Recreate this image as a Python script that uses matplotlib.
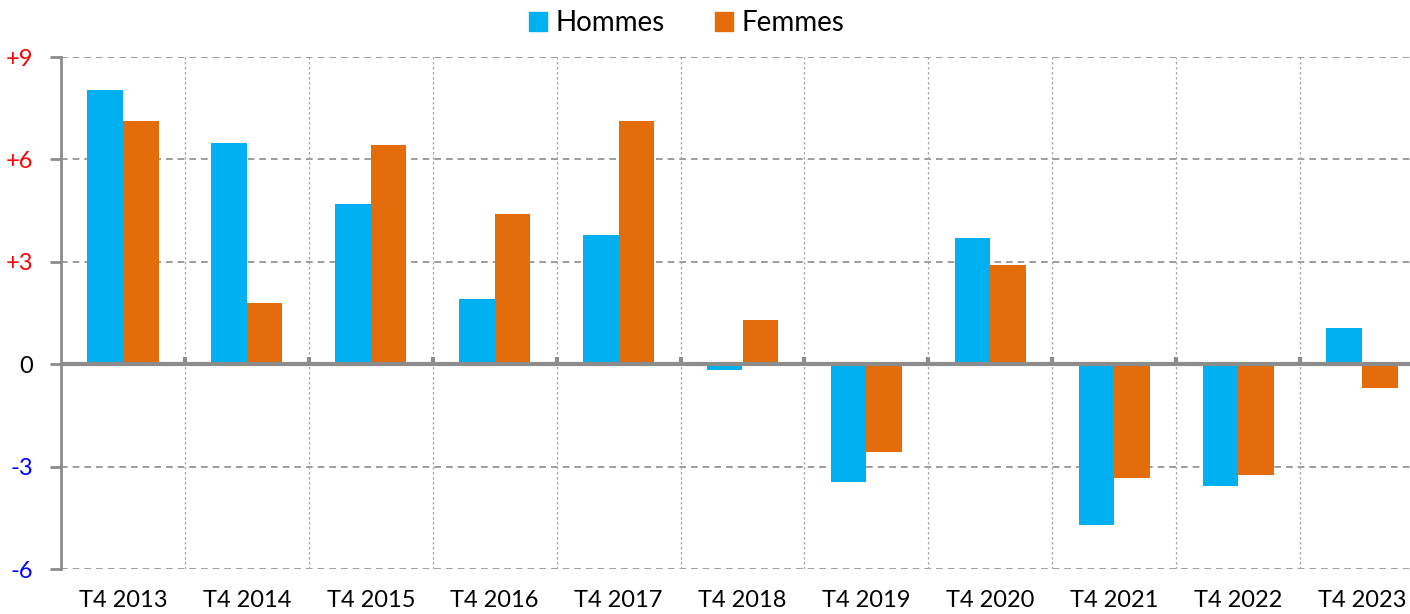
import numpy as np
import matplotlib
matplotlib.use("Agg")
from matplotlib import pyplot as plt
from matplotlib.patches import Patch

categories = ["T4 2013", "T4 2014", "T4 2015", "T4 2016", "T4 2017", "T4 2018",
              "T4 2019", "T4 2020", "T4 2021", "T4 2022", "T4 2023"]
hommes = [8.03, 6.48, 4.69, 1.91, 3.79, -0.17, -3.45, 3.70, -4.71, -3.57, 1.06]
femmes = [7.13, 1.79, 6.42, 4.40, 7.13, 1.29, -2.57, 2.91, -3.33, -3.25, -0.70]
yticks = [-6, -3, 0, 3, 6, 9]
ytick_labels = ["-6", "-3", "0", "+3", "+6", "+9"]
ytick_colors = ["blue", "blue", "black", "red", "red", "red"]

BLUE = "#00B0F0"
ORANGE = "#E46C0A"
GRID = "#8c8c8c"

plt.rcParams["font.family"] = ["Lato", "DejaVu Sans"]

fig = plt.figure(figsize=(14.1, 6.14), dpi=100)
# axes run slightly past the right edge, like the original
ax = fig.add_axes([61 / 1410, 1 - 569 / 614, (1424 - 61) / 1410, 512 / 614])

x = np.arange(len(categories))
w = 0.287
ax.bar(x - w / 2, hommes, w, color=BLUE, zorder=3)
ax.bar(x + w / 2, femmes, w, color=ORANGE, zorder=3)

ax.set_xlim(-0.5, len(categories) - 0.5)
ax.set_ylim(-6, 9)

# horizontal dashed grid
for y in yticks:
    if y != 0:
        ax.axhline(y, color=GRID, lw=1.2, ls=(0, (4, 3)), zorder=1)
# vertical dashed separators
for b in x[1:] - 0.5:
    ax.axvline(b, color="#a6a6a6", lw=0.9, ls=(0, (2, 2)), zorder=1)

# zero line with small ticks at category boundaries
ax.axhline(0, color=GRID, lw=3, zorder=4)
for b in x[1:] - 0.5:
    ax.plot([b, b], [0, 0.2], color=GRID, lw=3, zorder=4, solid_capstyle="butt")

for s in ["top", "right", "bottom"]:
    ax.spines[s].set_visible(False)
ax.spines["left"].set_color(GRID)
ax.spines["left"].set_linewidth(2)

ax.set_yticks(yticks)
ax.set_yticklabels(ytick_labels, fontsize=17)
for lbl, c in zip(ax.get_yticklabels(), ytick_colors):
    lbl.set_color(c)
ax.tick_params(axis="y", length=8, width=2, color=GRID, pad=12)

ax.set_xticks(x)
ax.set_xticklabels(categories, fontsize=17)
ax.tick_params(axis="x", length=0, pad=15)

handles = [Patch(color=BLUE, label="Hommes"), Patch(color=ORANGE, label="Femmes")]
fig.legend(handles=handles, loc="center", bbox_to_anchor=(0.487, 0.962), ncol=2,
           frameon=False, fontsize=20, handlelength=0.65, handleheight=0.65,
           handletextpad=0.3, columnspacing=1.8)

fig.savefig("out.png", dpi=100)
